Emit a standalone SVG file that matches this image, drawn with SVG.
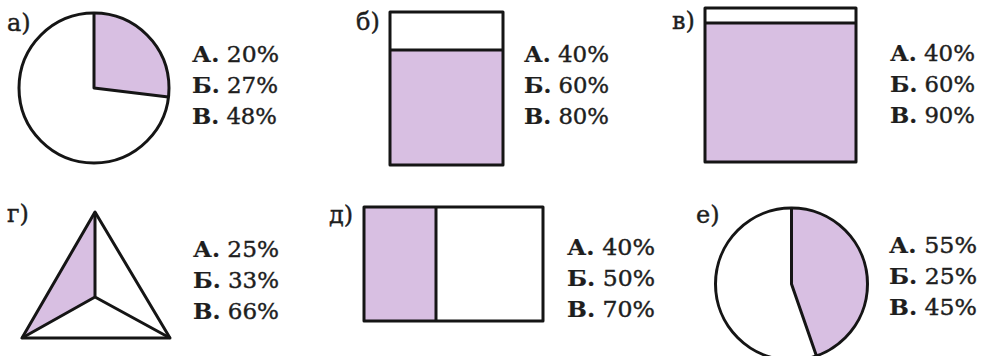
<svg xmlns="http://www.w3.org/2000/svg" width="981" height="356" viewBox="0 0 981 356">
<style>
.sh{fill:#d8bfe2;stroke:none}
.ol{fill:none;stroke:#151515;stroke-width:3;stroke-linejoin:round}
.wh{fill:#fff}
.lbl{font-family:"DejaVu Serif","Liberation Serif",serif;font-size:24px;fill:#1e1e1e;stroke:#1e1e1e;stroke-width:0.4}
.ans{font-family:"DejaVu Serif","Liberation Serif",serif;font-size:22px;fill:#1e1e1e;stroke:#1e1e1e;stroke-width:0.4}
.b{font-weight:bold;stroke-width:0.2}
</style>
<rect width="981" height="356" fill="#fff"/>
<g id="panel-a">
<text class="lbl" x="7" y="31">а)</text>
<circle cx="94" cy="88" r="75" fill="#fff"/>
<path class="sh" d="M94,88 L94,13 A75,75 0 0 1 168.4,97.1 Z"/>
<circle class="ol" cx="94" cy="88" r="75"/>
<path class="ol" d="M94,13 L94,88 L168.4,97.1"/>
<text class="ans" x="192" y="62" textLength="87" lengthAdjust="spacingAndGlyphs"><tspan class="b">А.</tspan> 20%</text>
<text class="ans" x="192" y="93" textLength="86" lengthAdjust="spacingAndGlyphs"><tspan class="b">Б.</tspan> 27%</text>
<text class="ans" x="192" y="124" textLength="85" lengthAdjust="spacingAndGlyphs"><tspan class="b">В.</tspan> 48%</text>
</g>
<g id="panel-b">
<text class="lbl" x="356" y="30">б)</text>
<rect class="wh" x="390" y="12" width="113" height="38"/>
<rect class="sh" x="390" y="50" width="113" height="115"/>
<rect class="ol" x="390" y="12" width="113" height="153"/>
<line class="ol" x1="390" y1="50" x2="503" y2="50"/>
<text class="ans" x="524" y="62" textLength="85" lengthAdjust="spacingAndGlyphs"><tspan class="b">А.</tspan> 40%</text>
<text class="ans" x="524" y="93" textLength="85" lengthAdjust="spacingAndGlyphs"><tspan class="b">Б.</tspan> 60%</text>
<text class="ans" x="524" y="124" textLength="85" lengthAdjust="spacingAndGlyphs"><tspan class="b">В.</tspan> 80%</text>
</g>
<g id="panel-v">
<text class="lbl" x="672" y="29">в)</text>
<rect class="wh" x="705" y="8" width="151" height="15"/>
<rect class="sh" x="705" y="23" width="151" height="139"/>
<rect class="ol" x="705" y="8" width="151" height="154"/>
<line class="ol" x1="705" y1="23" x2="856" y2="23"/>
<text class="ans" x="890" y="61" textLength="85" lengthAdjust="spacingAndGlyphs"><tspan class="b">А.</tspan> 40%</text>
<text class="ans" x="890" y="92" textLength="85" lengthAdjust="spacingAndGlyphs"><tspan class="b">Б.</tspan> 60%</text>
<text class="ans" x="890" y="123" textLength="85" lengthAdjust="spacingAndGlyphs"><tspan class="b">В.</tspan> 90%</text>
</g>
<g id="panel-g">
<text class="lbl" x="7" y="222">г)</text>
<polygon class="sh" points="95,212 22,338 95,297"/>
<polygon class="ol" points="95,212 22,338 170,338"/>
<path class="ol" d="M95,212 L95,297 M22,338 L95,297 L170,338"/>
<text class="ans" x="193" y="257" textLength="86" lengthAdjust="spacingAndGlyphs"><tspan class="b">А.</tspan> 25%</text>
<text class="ans" x="193" y="288" textLength="86" lengthAdjust="spacingAndGlyphs"><tspan class="b">Б.</tspan> 33%</text>
<text class="ans" x="193" y="319" textLength="86" lengthAdjust="spacingAndGlyphs"><tspan class="b">В.</tspan> 66%</text>
</g>
<g id="panel-d">
<text class="lbl" x="329" y="223">д)</text>
<rect class="sh" x="364" y="207" width="72" height="114"/>
<rect class="ol" x="364" y="207" width="179" height="114"/>
<line class="ol" x1="436" y1="207" x2="436" y2="321"/>
<text class="ans" x="567" y="255" textLength="88" lengthAdjust="spacingAndGlyphs"><tspan class="b">А.</tspan> 40%</text>
<text class="ans" x="567" y="286" textLength="88" lengthAdjust="spacingAndGlyphs"><tspan class="b">Б.</tspan> 50%</text>
<text class="ans" x="567" y="317" textLength="88" lengthAdjust="spacingAndGlyphs"><tspan class="b">В.</tspan> 70%</text>
</g>
<g id="panel-e">
<text class="lbl" x="696" y="223">е)</text>
<circle cx="791.5" cy="284" r="76" fill="#fff"/>
<path class="sh" d="M791.5,284 L791.5,208 A76,76 0 0 1 816.4,355.8 Z"/>
<circle class="ol" cx="791.5" cy="284" r="76"/>
<path class="ol" d="M791.5,208 L791.5,284 L816.4,355.8"/>
<text class="ans" x="889" y="253" textLength="88" lengthAdjust="spacingAndGlyphs"><tspan class="b">А.</tspan> 55%</text>
<text class="ans" x="889" y="284" textLength="88" lengthAdjust="spacingAndGlyphs"><tspan class="b">Б.</tspan> 25%</text>
<text class="ans" x="889" y="315" textLength="88" lengthAdjust="spacingAndGlyphs"><tspan class="b">В.</tspan> 45%</text>
</g>
<g id="connectors"></g>
</svg>
